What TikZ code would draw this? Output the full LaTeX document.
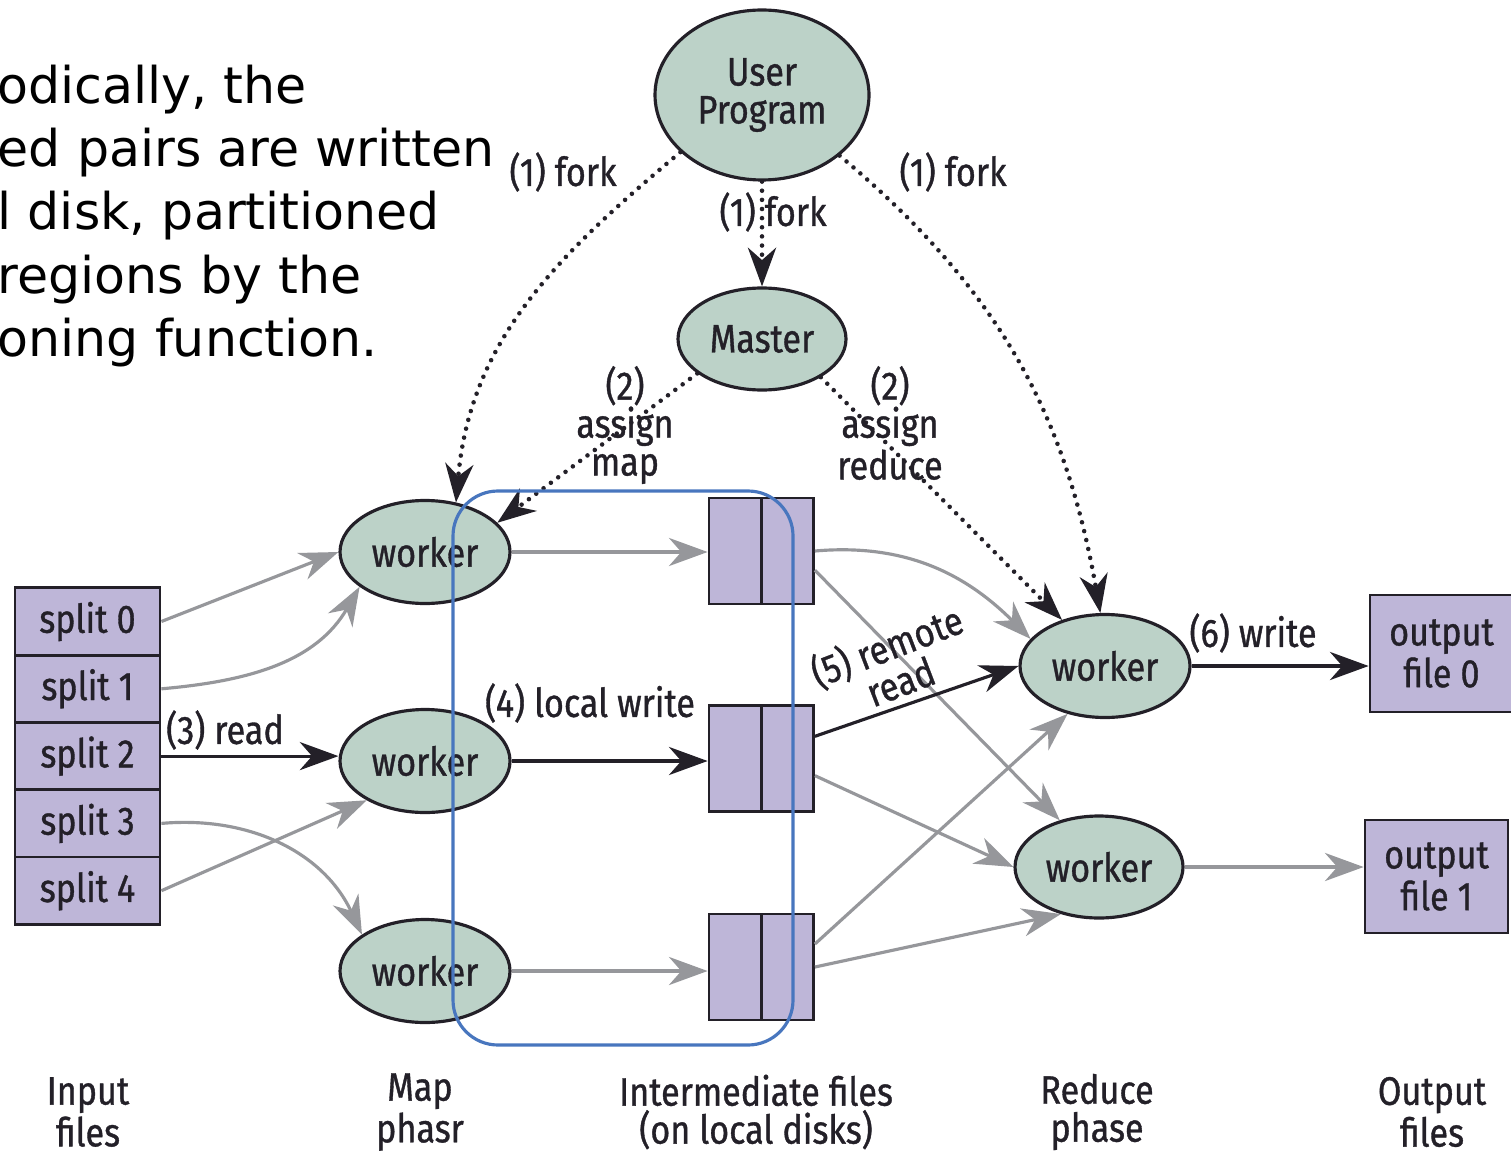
\documentclass[tikz,border=0pt]{standalone}
\usepackage{fontspec}
\setmainfont{Fira Sans}[FakeStretch=0.86, FakeBold=0.9]
\newfontfamily\slidefont{DejaVu Sans}
\usetikzlibrary{arrows.meta, shapes.geometric}

\definecolor{workergreen}{RGB}{188,210,200}
\definecolor{filelilac}{RGB}{190,182,216}
\definecolor{flowgray}{RGB}{150,151,155}
\definecolor{boxblue}{RGB}{72,118,190}
\definecolor{inkdark}{RGB}{35,32,40}

\tikzset{
  worker/.style={ellipse, draw=inkdark, line width=0.9pt, fill=workergreen,
    minimum width=1.70cm, minimum height=1.03cm, inner sep=0pt, text=inkdark, align=center},
  filebox/.style={rectangle, draw=inkdark, line width=0.8pt, fill=filelilac,
    inner sep=0pt, text=inkdark, align=center},
  flow/.style={-{Stealth[length=11pt, width=8pt, inset=3.5pt]}, line width=0.9pt, draw=inkdark},
  grayflow/.style={flow, draw=flowgray},
  ctrlflow/.style={flow, line width=1.3pt, line cap=round, dash pattern=on 0pt off 2.6pt},
  lbl/.style={text=inkdark, align=center, inner sep=0pt}
}

\begin{document}
\begin{tikzpicture}[font=\fontsize{11.3}{10.8}\selectfont]
  \useasboundingbox (0, 0) rectangle (15.11cm, 11.54cm);

  \foreach \k/\t in {1/{odically, the}, 2/{ed pairs are written}, 3/{l disk, partitioned},
    4/{regions by the}, 5/{oning function.}}
  \node (note\k) at (-0.03cm, 11.14cm - \k*0.633cm)
    [anchor=base west, inner sep=0pt, font=\slidefont\fontsize{14.4}{17}\selectfont] {\t};

  \node (up) at (7.62cm, 10.59cm) [worker, minimum width=2.14cm, minimum height=1.70cm] {User\\Program};
  \node (master) at (7.62cm, 8.15cm) [worker, minimum width=1.68cm, minimum height=1.02cm] {Master};

  \foreach \i in {0, ..., 4}
  \node (s\i) at (0.875cm, 5.325cm - \i*0.673cm) [filebox, minimum width=1.45cm, minimum height=0.673cm] {split \i};

  \foreach \i/\y/\f in {1/6.02/6.03, 2/3.93/3.955, 3/1.83/1.87} {
    \node (m\i) at (4.25cm, \y cm) [worker] {worker};
    \node (fa\i) at (7.355cm, \f cm) [filebox, minimum width=0.53cm, minimum height=1.06cm] {};
    \node (fb\i) at (7.875cm, \f cm) [filebox, minimum width=0.52cm, minimum height=1.06cm] {};
  }

  \node (r0) at (11.05cm, 4.88cm) [worker] {worker};
  \node (r1) at (10.99cm, 2.87cm) [worker, minimum width=1.68cm, minimum height=1.02cm] {worker};
  \node (out0) at (14.415cm, 5.005cm) [filebox, minimum width=1.43cm, minimum height=1.17cm] {output\\file 0};
  \node (out1) at (14.365cm, 2.775cm) [filebox, minimum width=1.43cm, minimum height=1.13cm] {output\\file 1};

  \draw [ctrlflow] (up.215) to[out=220, in=85] (m1.58);
  \draw [ctrlflow] (up) -- (master);
  \draw [ctrlflow] (up.322) to[out=-40, in=100] (r0.95);
  \draw [ctrlflow] (master.208) -- (m1.22);
  \draw [ctrlflow] (master.327) -- (r0.133);

  \draw [grayflow] (s0.east) -- (m1.west);
  \draw [grayflow] (s1.east) to[out=5, in=240] (m1.208);
  \draw [flow] (s2.east) -- (s2.east -| m2.west);
  \draw [grayflow] (s3.east) to[out=5, in=115] (m3.150);
  \draw [grayflow] (s4.east) -- (m2.214);

  \draw [grayflow] (m1.east) -- (m1.east -| fa1.west);
  \draw [flow] (m2.east) -- (m2.east -| fa2.west);
  \draw [grayflow] (m3.east) -- (m3.east -| fa3.west);

  \draw [grayflow] (fb1.east) to[out=5, in=135] (r0.160);
  \draw [grayflow] (fb1.-35) -- (r1.130);
  \draw [flow] (fb2.39) -- (r0.west);
  \draw [grayflow] (fb2.-32) -- (r1.west);
  \draw [grayflow] (fb3.40) -- (r0.232);
  \draw [grayflow] (fb3.east) -- (r1.231);

  \draw [flow] (r0.east) -- (r0.east -| out0.west);
  \draw [grayflow] (r1.east) -- (r1.east -| out1.west);

  \node (forkl) at (5.63cm, 9.82cm) [lbl] {(1) fork};
  \node (forkm) at (7.73cm, 9.42cm) [lbl] {(1) fork};
  \node (forkr) at (9.53cm, 9.82cm) [lbl] {(1) fork};
  \node (amap) at (6.25cm, 7.29cm) [lbl] {(2)\\assign\\map};
  \node (ared) at (8.90cm, 7.31cm) [lbl] {(2)\\assign\\reduce};
  \node (read) at (2.25cm, 4.24cm) [lbl] {(3) read};
  \node (lwrite) at (5.90cm, 4.51cm) [lbl] {(4) local write};
  \node (rread) at (8.93cm, 4.92cm) [lbl, rotate=21] {(5) remote\\read};
  \node (write) at (12.53cm, 5.21cm) [lbl] {(6) write};

  \foreach \n/\x/\t in {inp/0.88/{Input\\files}, map/4.20/{Map\\phasr},
    mid/7.56/{Intermediate files\\(on local disks)}, red/10.97/{Reduce\\phase}, outp/14.32/{Output\\files}}
  \node (cap\n) at (\x cm, 0.42cm) [lbl] {\t};

  \draw [boxblue, line width=0.9pt, rounded corners=0.45cm] (4.53cm, 6.63cm) rectangle (7.93cm, 1.09cm);
\end{tikzpicture}
\end{document}
